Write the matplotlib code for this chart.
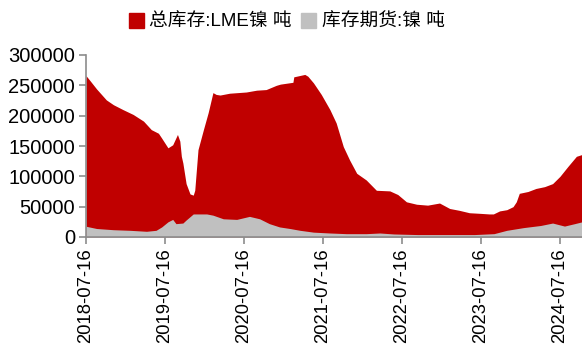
import matplotlib.pyplot as plt
import matplotlib.dates as mdates
from matplotlib.patches import Patch
import numpy as np

plt.rcParams['font.family'] = ['Liberation Sans', 'Noto Sans CJK SC', 'DejaVu Sans']

# LME nickel total stock (tons)
total_dates = ['2018-07-16', '2018-08-03', '2018-09-03', '2018-10-18', '2018-11-20',
               '2019-01-03', '2019-02-19', '2019-04-08', '2019-05-14', '2019-06-16',
               '2019-07-01', '2019-07-30', '2019-08-21', '2019-09-12', '2019-09-23',
               '2019-09-30', '2019-10-07', '2019-10-22', '2019-11-09', '2019-11-24',
               '2019-12-01', '2019-12-16', '2020-01-10', '2020-02-01', '2020-02-23',
               '2020-03-09', '2020-03-27', '2020-05-10', '2020-07-26', '2020-09-12',
               '2020-10-26', '2020-12-12', '2020-12-31', '2021-02-27', '2021-03-03',
               '2021-04-23', '2021-05-07', '2021-06-02', '2021-07-08', '2021-08-17',
               '2021-09-15', '2021-10-18', '2021-11-16', '2021-12-19', '2022-02-01',
               '2022-03-20', '2022-05-21', '2022-06-27', '2022-08-06', '2022-09-22',
               '2022-11-12', '2023-01-06', '2023-02-22', '2023-04-07', '2023-05-24',
               '2023-07-12', '2023-08-24', '2023-09-12', '2023-10-11', '2023-11-13',
               '2023-12-12', '2023-12-27', '2024-01-10', '2024-02-19', '2024-03-27',
               '2024-05-06', '2024-06-12', '2024-07-16', '2024-08-21', '2024-09-30',
               '2024-10-26']
total_values = [266000, 258000, 244000, 226000, 218000,
                210000, 202000, 191000, 177000, 171000,
                163000, 147000, 152000, 169000, 158000,
                133000, 122000, 88000, 71000, 69000,
                77000, 144000, 177000, 205000, 238000,
                235000, 234000, 237000, 239000, 242000,
                243000, 250000, 252000, 255000, 264000,
                268000, 265000, 254000, 235000, 210000,
                188000, 149000, 127000, 105000, 94000,
                77000, 76000, 70000, 58000, 54000,
                52500, 56000, 47000, 44000, 40000,
                39000, 38000, 38000, 43000, 45000,
                50000, 58000, 72000, 75000, 80000,
                83000, 88000, 100000, 116000, 133000,
                136000]

# futures warehouse stock, nickel (tons)
fut_dates = ['2018-07-16', '2018-09-03', '2018-11-20', '2019-02-05', '2019-04-22',
             '2019-06-05', '2019-07-01', '2019-07-30', '2019-08-21', '2019-09-05',
             '2019-10-07', '2019-10-22', '2019-11-24', '2020-01-25', '2020-02-23',
             '2020-04-11', '2020-06-12', '2020-08-10', '2020-09-26', '2020-11-10',
             '2020-12-27', '2021-02-13', '2021-04-01', '2021-06-02', '2021-08-17',
             '2021-11-01', '2022-02-01', '2022-04-05', '2022-06-08', '2022-09-27',
             '2023-02-20', '2023-06-16', '2023-09-15', '2023-11-13', '2024-01-30',
             '2024-04-18', '2024-06-12', '2024-08-06', '2024-09-22', '2024-10-26']
fut_values = [17700, 14000, 12000, 11000, 9400,
              11000, 16600, 25000, 29000, 22000,
              23000, 28000, 38000, 38000, 36000,
              30000, 29000, 34000, 30000, 22000,
              16600, 14000, 11000, 8000, 6600,
              5500, 5500, 6600, 5000, 4000,
              4000, 4000, 5500, 11000, 15500,
              19000, 23000, 18000, 22000, 25000]

ticks = ['2018-07-16', '2019-07-16', '2020-07-16', '2021-07-16',
         '2022-07-16', '2023-07-16', '2024-07-16']

td = np.array(total_dates, dtype='datetime64[D]')
fd = np.array(fut_dates, dtype='datetime64[D]')
tk = np.array(ticks, dtype='datetime64[D]')

red = '#c00000'
grey = '#c0c0c0'

fig = plt.figure(figsize=(5.82, 3.45), dpi=100)
ax = fig.add_axes([86 / 582, 108 / 345, 1 - 86 / 582, 182 / 345])

ax.fill_between(td, 0, total_values, color=red, lw=0)
ax.fill_between(fd, 0, fut_values, color=grey, lw=0)

ax.set_ylim(0, 300000)
ax.set_xlim(td[0], td[-1])
ax.set_yticks(np.arange(0, 300001, 50000))
ax.set_xticks(tk)
ax.xaxis.set_major_formatter(mdates.DateFormatter('%Y-%m-%d'))
ax.tick_params(axis='x', rotation=90, labelsize=13.3)
ax.tick_params(axis='y', labelsize=14.5)
ax.tick_params(color='#8c8c8c', length=5, width=1.2, pad=3)

for s in ['top', 'right']:
    ax.spines[s].set_visible(False)
for s in ['left', 'bottom']:
    ax.spines[s].set_color('#8c8c8c')
    ax.spines[s].set_linewidth(1.2)

handles = [Patch(color=red), Patch(color=grey)]
labels = ['总库存:LME镍 吨', '库存期货:镍 吨']
fig.legend(handles, labels, loc='center', bbox_to_anchor=(0.493, 0.936), ncol=2,
           frameon=False, fontsize=13.5, handlelength=0.8, handleheight=0.8,
           handletextpad=0.3, columnspacing=0.5)

fig.savefig('out.png', dpi=100)
